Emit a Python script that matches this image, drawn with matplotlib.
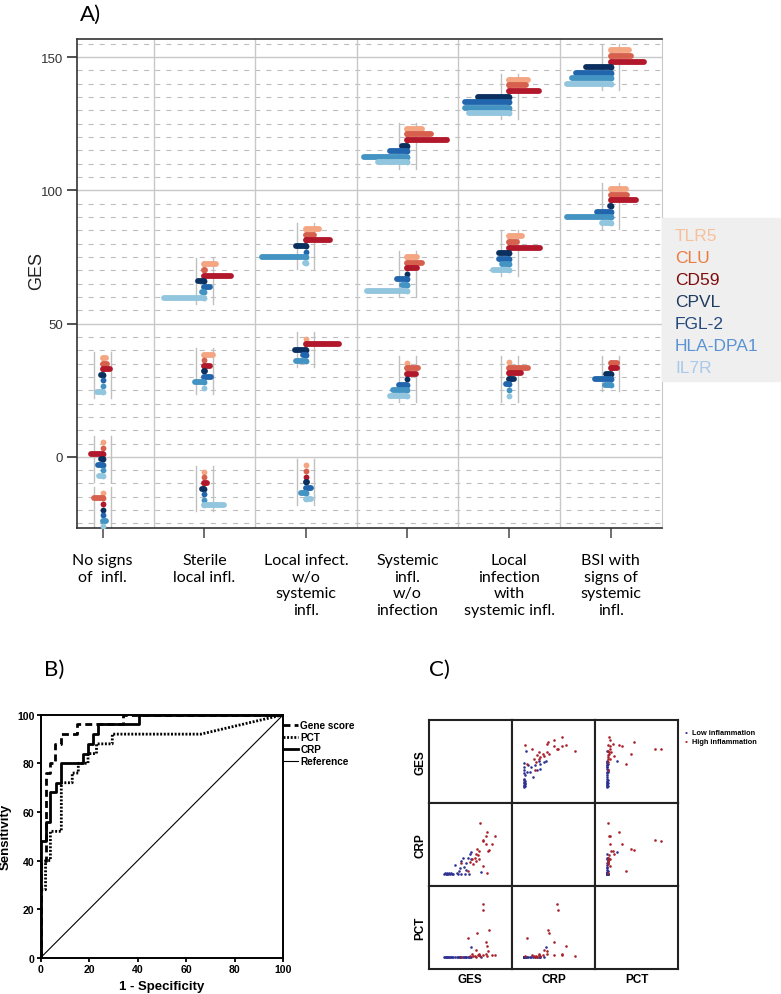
import matplotlib.pyplot as plt
from matplotlib.patches import Rectangle
import numpy as np

# ---- panel A data ----
genes = ['TLR5', 'CLU', 'CD59', 'CPVL', 'FGL-2', 'HLA-DPA1', 'IL7R']
bar_colors = ['#F4A582', '#D6604D', '#B2182B', '#0B2F5E', '#2166AC', '#4393C3', '#92C5DE']
text_colors = ['#F8C09A', '#EC7A3F', '#7E0A0A', '#1F3A5F', '#23497D', '#5B92D3', '#A9C8EA']
categories = ['No signs\nof  infl.', 'Sterile\nlocal infl.',
              'Local infect.\nw/o\nsystemic\ninfl.',
              'Systemic\ninfl.\nw/o\ninfection',
              'Local\ninfection\nwith\nsystemic infl.',
              'BSI with\nsigns of\nsystemic\ninfl.']

# each profile: category, GES of the top gene, shift of each gene (None = not shown)
group_cat = [1, 1, 1, 2, 2, 2, 3, 3, 3, 4, 4, 4, 5, 5, 5, 6, 6, 6]
group_ges = [37.1, 5.4, -13.5, 72.2, 38.4, -5.6, 85.4, 44.4, -3.2,
             123.1, 75.0, 35.4, 141.5, 82.7, 35.6, 152.5, 100.4, 35.4]
group_shift = [
    [3.5, 4, 7.5, -2, 0, 0, -6],
    [0, 0, -12, -2, -5, 0, -4],
    [0, -9, 0, 0, 0, 3, 0],
    [12, 1, 26, -6, 6, -2, -39.5],
    [8.5, 0, 6, 1, 7, -9, 0],
    [0, 0, 3, -2, 0, 0, 19],
    [13, 7.5, 23.5, -10, 0, -43, -1],
    [0, None, 33, -11, -3, -10, None],
    [0, 0, 0, 1, 5, -5, 5],
    [14, 23, 39, -5, -17, -43, -29],
    [9, 14, 9, 0, -10, -5, -40],
    [0, 10, 8, 0, -8, -14, -17],
    [19, 17, 29, -31, -43, -43, -39],
    [13, 8, 30, -10, -10, -7, -16],
    [0, 19, 12, 5, -3, 0, 0],
    [18, 20, 33, -24, -34, -38, -43],
    [15, 16, 25, -1, -13, -43, -9],
    [None, 6, 6, -5, -15, -6, None],
]

# ---- panel B data (ROC curves) ----
gene_fpr = [0, 0, 2, 2, 4, 4, 6, 6, 8.5, 8.5, 15, 15, 23, 34, 34, 100]
gene_tpr = [0, 40, 40, 76, 76, 80, 80, 88, 88, 92, 92, 96, 96, 96, 100, 100]
pct_fpr = [0, 0, 2, 2, 4, 4, 8.5, 8.5, 13, 13, 15.5, 15.5, 19.5, 19.5, 23, 23, 29.5, 29.5, 66, 100]
pct_tpr = [0, 28, 28, 40, 40, 52, 52, 72, 72, 76, 76, 80, 80, 84, 84, 88, 88, 92, 92, 100]
crp_fpr = [0, 0, 2, 2, 4, 4, 6.5, 6.5, 8.5, 8.5, 17.5, 17.5, 19.5, 19.5, 21.5, 21.5, 23.5, 23.5, 40.5, 40.5, 100]
crp_tpr = [0, 48, 48, 56, 56, 68, 68, 72, 72, 80, 80, 84, 84, 88, 88, 92, 92, 96, 96, 100, 100]

# ---- panel C data (per patient) ----
high_ges = [70, 82, 80, 98, 75, 75, 81, 92, 87, 84, 64, 68, 61, 65, 59, 54, 62, 68, 55, 33, 49, 75, 46, 82]
high_crp = [100, 82, 75, 74, 64, 66, 59, 59, 48, 46, 49, 46, 40, 37, 32, 29, 25, 29, 20, 22, 23, 15, 5, 1]
high_pct = [2, 21, 5, 3, 100, 89, 28, 4, 50, 11, 45, 6, 13, 3, 2, 5, 1, 3, 2, 1, 2, 4, 35, 2]
low_ges = [0, 2, 3, 5, 6, 8, 9, 11, 13, 15, 17, 20, 30, 33, 36, 39, 43, 46, 49, 51, 52, 43, 29, 48, 71, 27, 33, 24, 40]
low_crp = [0, 1, 0, 0, 1, 0, 2, 0, 1, 0, 0, 17, 12, 25, 32, 14, 22, 32, 39, 44, 30, 8, 6, 0, 4, 0, 0, 1, 0]
low_pct = [0, 0, 1, 0, 0, 1, 0, 0, 0, 1, 0, 0, 0, 1, 0, 0, 0, 1, 0, 18, 0, 0, 1, 0, 0, 0, 1, 0, 0]
c_vars = ['GES', 'CRP', 'PCT']

W, H = 781, 995
fig = plt.figure(figsize=(W / 100, H / 100), dpi=100)
SANS = ['Liberation Sans', 'DejaVu Sans']
CAL = ['Lato', 'DejaVu Sans']


def px_axes(x0, y0, x1, y1):
    return fig.add_axes([x0 / W, 1 - y1 / H, (x1 - x0) / W, (y1 - y0) / H])


# ================= Panel A =================
ax = px_axes(77, 40, 662, 529)
ax.set_xlim(0.747, 6.505)
ax.set_ylim(-26.7, 156.8)
for v in np.arange(-25, 156, 5):
    if v % 50 == 0:
        ax.axhline(v, color='#c8c8c8', lw=1.0, zorder=0)
    else:
        ax.axhline(v, color='#bdbdbd', lw=0.8, ls=(0, (4.5, 5.5)), zorder=0)
for s in np.arange(1.5, 6, 1):
    ax.axvline(s, color='#c8c8c8', lw=1.0, zorder=0)

step = 2.1
for cat, top, shifts in zip(group_cat, group_ges, group_shift):
    ys = []
    for gi, sh in enumerate(shifts):
        if sh is None:
            continue
        y = top - step * len(ys)
        ys.append(y)
        ax.plot([cat, cat + sh / 100], [y, y], color=bar_colors[gi], lw=4.2,
                solid_capstyle='round', zorder=3)
        ax.plot(cat, y, 'o', ms=4.2, color=bar_colors[gi], mew=0, zorder=3)
    for dx in (-0.084, 0.084):
        ax.plot([cat + dx] * 2, [ys[0] + 2.3, ys[-1] - 2.3], color='#c0c0c0', lw=1.0, zorder=2)

ax.set_yticks([0, 50, 100, 150])
ax.set_yticklabels(['0', '50', '100', '150'], family=SANS, fontsize=9.5, color='#333333')
ax.set_xticks(range(1, 7))
ax.set_xticklabels(categories, family=CAL, fontsize=11.5, linespacing=1.25)
ax.tick_params(axis='y', length=7, width=1.2, color='#333333', pad=3)
ax.tick_params(axis='x', length=7, width=1.2, color='#555555', pad=11)
for side in ['left', 'bottom', 'top']:
    ax.spines[side].set_color('#333333')
    ax.spines[side].set_linewidth(1.2)
ax.spines['right'].set_color('#c8c8c8')
ax.set_ylabel('GES', family=SANS, fontsize=13, color='#222222')
ax.yaxis.set_label_coords(-0.055, 0.528)

fig.patches.append(Rectangle((661.7 / W, 1 - 382 / H), (W - 661.7) / W, (382 - 219.3) / H,
                             transform=fig.transFigure, color='#EFEFEF', zorder=0))
for k, (g, c) in enumerate(zip(genes, text_colors)):
    fig.text(675 / W, 1 - (236.7 + 21.9 * k) / H, g, color=c, family=SANS,
             fontsize=12.5, va='center', ha='left')

fig.text(80 / W, 1 - 15 / H, 'A)', family=CAL, fontsize=16, va='center')
fig.text(44 / W, 1 - 670 / H, 'B)', family=CAL, fontsize=16, va='center')
fig.text(429 / W, 1 - 670 / H, 'C)', family=CAL, fontsize=16, va='center')

# ================= Panel B =================
axB = px_axes(40.7, 715.7, 283.3, 958.7)
axB.plot(gene_fpr, gene_tpr, color='black', lw=2.0, ls=(0, (2.5, 1.5)), label='Gene score')
axB.plot(pct_fpr, pct_tpr, color='black', lw=2.0, ls=(0, (0.7, 0.6)), label='PCT')
axB.plot(crp_fpr, crp_tpr, color='black', lw=2.0, label='CRP')
axB.plot([0, 100], [0, 100], color='black', lw=0.8, label='Reference')
axB.set_xlim(0, 100)
axB.set_ylim(0, 100)
axB.set_xticks(range(0, 101, 20))
axB.set_yticks(range(0, 101, 20))
for lbl in axB.get_xticklabels() + axB.get_yticklabels():
    lbl.set_family(SANS)
    lbl.set_fontweight('bold')
    lbl.set_fontsize(7.6)
axB.tick_params(length=3, width=1.3, pad=1.5)
for sp in axB.spines.values():
    sp.set_linewidth(1.4)
axB.set_xlabel('1 - Specificity', family=SANS, fontweight='bold', fontsize=9.5)
axB.set_ylabel('Sensitivity', family=SANS, fontweight='bold', fontsize=9.5)
axB.xaxis.set_label_coords(0.5, -0.092)
axB.yaxis.set_label_coords(-0.118, 0.5)
axB.legend(loc='upper left', bbox_to_anchor=(1.0, 0.978), frameon=False,
           handlelength=1.5, handletextpad=0.2, labelspacing=0.2,
           borderaxespad=0, borderpad=0,
           prop={'family': SANS, 'weight': 'bold', 'size': 7.2})

# ================= Panel C =================
data = {'GES': (low_ges, high_ges), 'CRP': (low_crp, high_crp), 'PCT': (low_pct, high_pct)}
limits = {'GES': (-30, 131), 'CRP': (-25, 141), 'PCT': (-23, 133)}
cx0, cy0, cell = 428.7, 720.7, 83.2
for i, rv in enumerate(c_vars):
    for j, cv in enumerate(c_vars):
        a = px_axes(cx0 + j * cell, cy0 + i * cell, cx0 + (j + 1) * cell, cy0 + (i + 1) * cell)
        a.set_xticks([])
        a.set_yticks([])
        for sp in a.spines.values():
            sp.set_linewidth(1.5)
            sp.set_color('#222222')
        a.set_xlim(limits[cv])
        a.set_ylim(limits[rv])
        if i != j:
            a.scatter(data[cv][0], data[rv][0], s=3.5, color='#2E3192', linewidths=0)
            a.scatter(data[cv][1], data[rv][1], s=3.5, color='#A8202A', linewidths=0)
for k, v in enumerate(c_vars):
    fig.text(420 / W, 1 - (cy0 + (k + 0.5) * cell) / H, v, rotation=90, family=SANS,
             fontweight='bold', fontsize=8.5, ha='center', va='center')
    fig.text((cx0 + (k + 0.5) * cell) / W, 1 - 980 / H, v, family=SANS,
             fontweight='bold', fontsize=8.5, ha='center', va='center')
for k, (lab, col) in enumerate([('Low inflammation', '#2E3192'), ('High inflammation', '#A8202A')]):
    yy = 1 - (733.5 + 9 * k) / H
    fig.text(686 / W, yy, '\u2022', color=col, family=SANS, fontsize=6, ha='center', va='center')
    fig.text(691.5 / W, yy, lab, family=SANS, fontweight='bold', fontsize=5.3, ha='left', va='center')

fig.savefig('out.png', dpi=100)
